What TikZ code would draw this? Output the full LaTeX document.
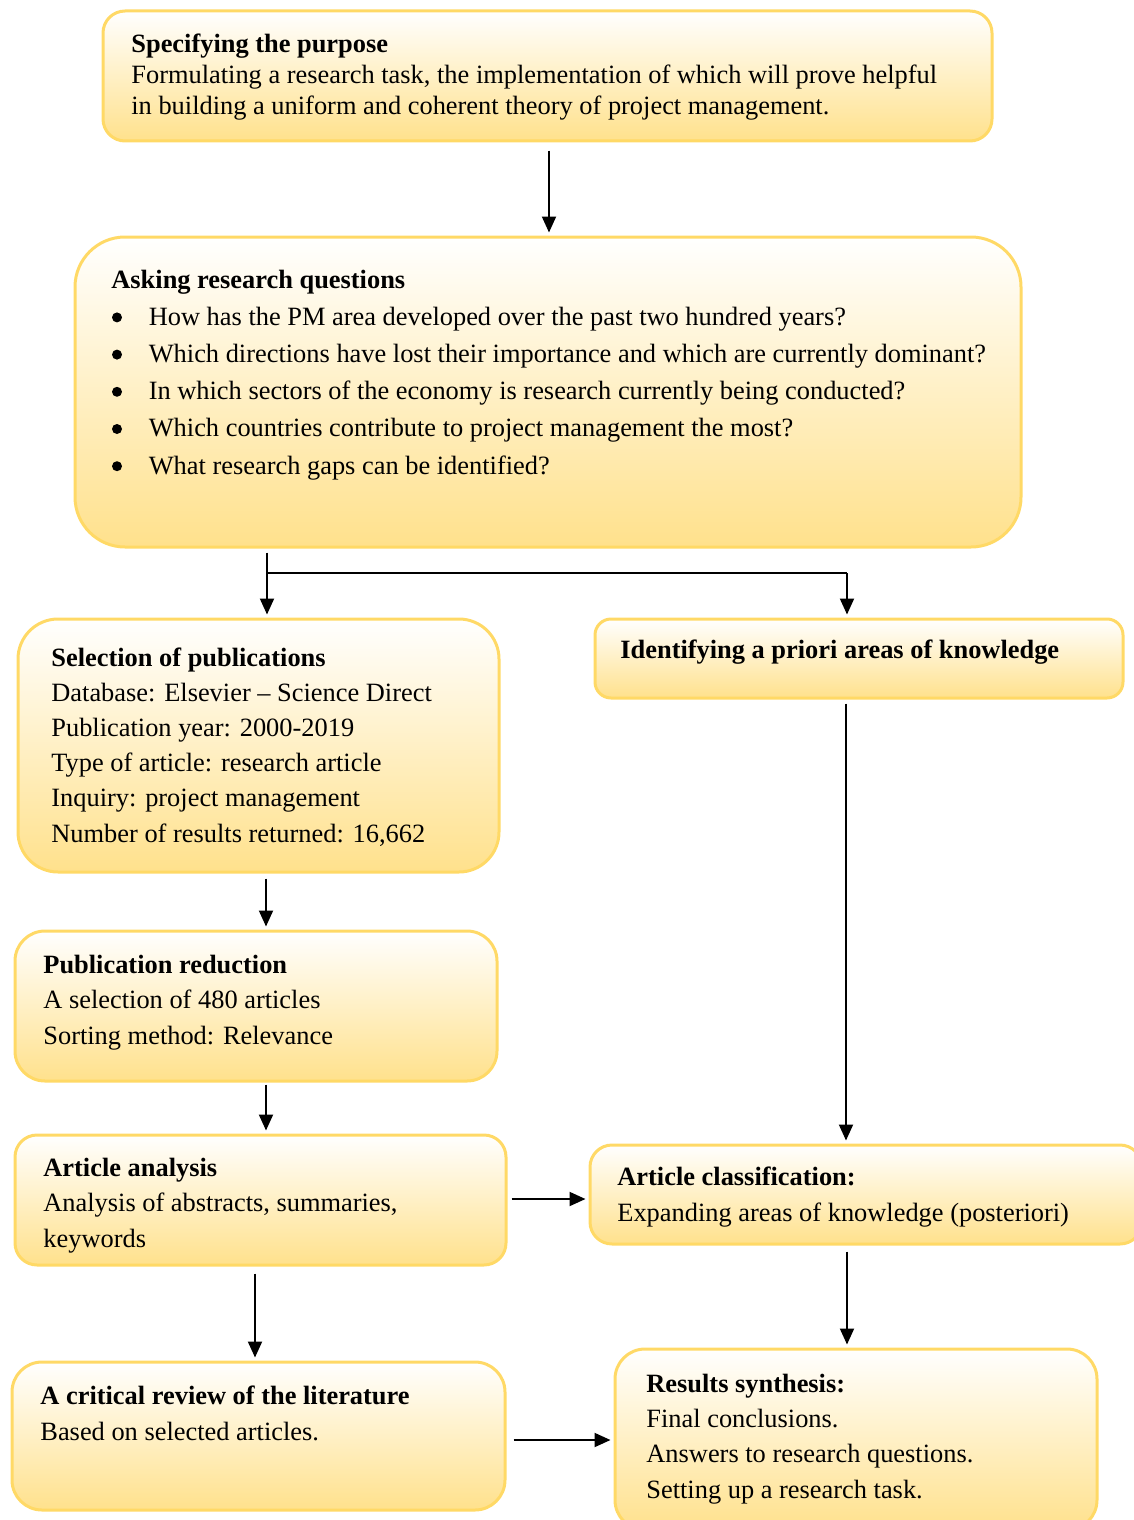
\documentclass[tikz,border=0pt]{standalone}
\usepackage{fontspec}
\setmainfont{Liberation Serif}
\usetikzlibrary{arrows.meta,fit}
\definecolor{bord}{RGB}{255,217,102}
\definecolor{fillbot}{RGB}{255,225,140}
\tikzset{
  boxst/.style={draw=bord, line width=1.5pt, top color=white, bottom color=fillbot, inner sep=0pt},
  txt/.style={anchor=base west, inner sep=0pt, align=left, font=\fontsize{13.2}{17.6}\selectfont},
  arr/.style={draw=black, line width=1pt, -{Triangle[width=7pt,length=8pt]}, shorten <=2pt, shorten >=1.5pt},
  ln/.style={draw=black, line width=1pt}
}
\newcommand{\bul}{\makebox[18.7pt][l]{\hspace{0.3pt}\raisebox{1.4pt}{\tikz\fill[black] (0pt,0pt) circle[radius=2.5pt];}}}
\begin{document}
\begin{tikzpicture}[x=0.5pt,y=-0.5pt]
\useasboundingbox (0,0) rectangle (1134,1520);
% boxes
\node[boxst, rounded corners=11pt, fit={(103,11) (992,141)}] (b1) {};
\node[boxst, rounded corners=25pt, fit={(75,237) (1021,547)}] (b2) {};
\node[boxst, rounded corners=20pt, fit={(18,619) (499,872)}] (sel) {};
\node[boxst, rounded corners=8pt, fit={(595,619) (1123,698)}] (ide) {};
\node[boxst, rounded corners=15pt, fit={(15,931) (497,1081)}] (red) {};
\node[boxst, rounded corners=11pt, fit={(15,1135) (506,1265)}] (ana) {};
\node[boxst, rounded corners=11pt, fit={(590,1145) (1142,1244)}] (cls) {};
\node[boxst, rounded corners=15pt, fit={(12,1362) (505,1510)}] (crit) {};
\node[boxst, rounded corners=15pt, fit={(615,1349) (1097,1530)}] (res) {};
% texts (anchored at the baseline of their last line)
\node[txt, font=\fontsize{13.2}{15.5}\selectfont] (t1) at (131,114) {\textbf{Specifying the purpose}\\Formulating a research task, the implementation of which will prove helpful\\in building a uniform and coherent theory of project management.};
\node[txt, font=\fontsize{13.2}{18.6}\selectfont] (t2) at (111,474) {\textbf{Asking research questions}\\
\bul How has the PM area developed over the past two hundred years?\\
\bul Which directions have lost their importance and which are currently dominant?\\
\bul In which sectors of the economy is research currently being conducted?\\
\bul Which countries contribute to project management the most?\\
\bul What research gaps can be identified?};
\node[txt] (t3) at (51,842) {\textbf{Selection of publications}\\Database: Elsevier -- Science Direct\\Publication year: 2000-2019\\Type of article: research article\\Inquiry: project management\\Number of results returned: 16,662};
\node[txt] (t4) at (620,658) {\textbf{Identifying a priori areas of knowledge}};
\node[txt] (t5) at (43,1044) {\textbf{Publication reduction}\\A selection of 480 articles\\Sorting method: Relevance};
\node[txt] (t6) at (43,1247) {\textbf{Article analysis}\\Analysis of abstracts, summaries,\\keywords};
\node[txt] (t7) at (617,1221) {\textbf{Article classification:}\\Expanding areas of knowledge (posteriori)};
\node[txt] (t8) at (40,1440) {\textbf{A critical review of the literature}\\Based on selected articles.};
\node[txt] (t9) at (646,1498) {\textbf{Results synthesis:}\\Final conclusions.\\Answers to research questions.\\Setting up a research task.};
% connector x-positions
\coordinate (xm) at (549,0);
\coordinate (xl) at (267,0);
\coordinate (xs) at (266,0);
\coordinate (xc) at (255,0);
\coordinate (xr) at (847,0);
\coordinate (xi) at (846,0);
\coordinate (jl) at (267,573);
\coordinate (jr) at (847,573);
\coordinate (ya) at (0,1199);
\coordinate (yc) at (0,1440);
% connectors
\draw[arr, shorten <=4pt] (b1.south -| xm) -- (b2.north -| xm);
\draw[arr] (b2.south -| xl) -- (sel.north -| xl);
\draw[ln] (jl) -- (jr);
\draw[arr, shorten <=0pt] (jr) -- (ide.north -| jr);
\draw[arr, shorten <=2.5pt] (sel.south -| xs) -- (red.north -| xs);
\draw[arr, shorten <=1pt] (red.south -| xs) -- (ana.north -| xs);
\draw[arr, shorten <=3.5pt] (ana.south -| xc) -- (crit.north -| xc);
\draw[arr] (ide.south -| xi) -- (cls.north -| xi);
\draw[arr, shorten <=3pt] (cls.south -| xr) -- (res.north -| xr);
\draw[arr] (ana.east |- ya) -- (cls.west |- ya);
\draw[arr, shorten <=3.5pt] (crit.east |- yc) -- (res.west |- yc);
\end{tikzpicture}
\end{document}
